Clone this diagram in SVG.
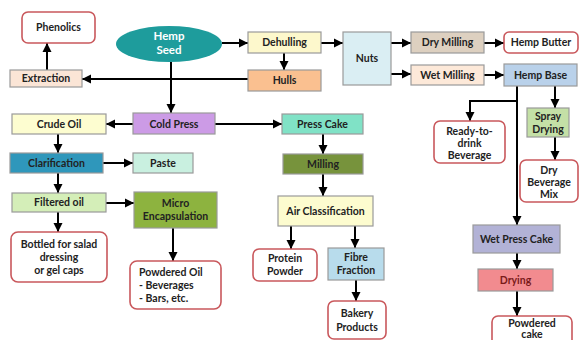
<svg xmlns="http://www.w3.org/2000/svg" width="583" height="340" viewBox="0 0 583 340">
<defs>
<marker id="ah" markerUnits="userSpaceOnUse" markerWidth="10" markerHeight="10" refX="9" refY="5" orient="auto">
<path d="M0,0.5 L9,5 L0,9.5 Z" fill="#000"/>
</marker>
</defs>
<style>
text{font-family:Lato,"Liberation Sans",sans-serif;font-weight:bold;font-size:10.5px;fill:#222;text-anchor:middle}
.box{stroke:#9a9a9a;stroke-width:1.2}
.prod{fill:#fff;stroke:#c9585c;stroke-width:1.6}
.c path{fill:none;stroke:#000;stroke-width:2;marker-end:url(#ah)}
</style>
<rect width="583" height="340" fill="#fff"/>
<g class="c" id="connectors">
<path d="M222,43 H248"/>
<path d="M284,53 V70"/>
<path d="M321,43 H343"/>
<path d="M248,79 H82"/>
<path d="M47,70 V43"/>
<path d="M171,62 V113"/>
<path d="M133,124 H106"/>
<path d="M215,124 H282"/>
<path d="M391,43 H411"/>
<path d="M391,74 H411"/>
<path d="M484,43 H504"/>
<path d="M484,75 H504"/>
<path d="M555,86 V108"/>
<path d="M517,86 V225"/>
<path d="M517,101 H470 V121"/>
<path d="M555,137 V160"/>
<path d="M517,253 V269"/>
<path d="M517,291 V316"/>
<path d="M58,134 V153"/>
<path d="M103,163 H133"/>
<path d="M58,173 V193"/>
<path d="M106,203 H134"/>
<path d="M58,212 V232"/>
<path d="M173,228 V261"/>
<path d="M323,134 V154"/>
<path d="M323,174 V196"/>
<path d="M291,226 V249"/>
<path d="M355,226 V248"/>
<path d="M356,280 V301"/>
</g>
<g id="phenolics"><rect class="prod" x="22" y="12" width="73" height="31" rx="6"/><text x="58.5" y="31">Phenolics</text></g>
<g id="hempseed"><ellipse cx="169" cy="44" rx="53" ry="18" fill="#1e9c9c"/><text x="169" y="40" style="fill:#fff;font-size:11.5px">Hemp</text><text x="169" y="54" style="fill:#fff;font-size:11.5px">Seed</text></g>
<g id="extraction"><rect class="box" x="10" y="70" width="72" height="17" fill="#fbe5d6"/><text x="46" y="82">Extraction</text></g>
<g id="dehulling"><rect class="box" x="248" y="32" width="73" height="21" fill="#fdf8cc"/><text x="284.5" y="46">Dehulling</text></g>
<g id="hulls"><rect class="box" x="248" y="70" width="73" height="21" fill="#fac090"/><text x="284.5" y="84">Hulls</text></g>
<g id="nuts"><rect class="box" x="343" y="32" width="48" height="53" fill="#daeef3"/><text x="367" y="62">Nuts</text></g>
<g id="drymilling"><rect class="box" x="411" y="32" width="73" height="21" fill="#ddd0c0"/><text x="447.5" y="46">Dry Milling</text></g>
<g id="hempbutter"><rect class="prod" x="504" y="32" width="74" height="21" rx="5"/><text x="541" y="46">Hemp Butter</text></g>
<g id="wetmilling"><rect class="box" x="411" y="65" width="73" height="20" fill="#fde9d9"/><text x="447.5" y="79">Wet Milling</text></g>
<g id="hempbase"><rect class="box" x="504" y="64" width="73" height="22" fill="#b9d1ea"/><text x="540.5" y="79">Hemp Base</text></g>
<g id="readytodrink"><rect class="prod" x="434" y="121" width="71" height="42" rx="6"/><text x="469.5" y="135">Ready-to-</text><text x="469.5" y="147">drink</text><text x="469.5" y="159">Beverage</text></g>
<g id="spraydrying"><rect class="box" x="527" y="108" width="42" height="29" fill="#c4e0a6"/><text x="548" y="120">Spray</text><text x="548" y="133">Drying</text></g>
<g id="drybeveragemix"><rect class="prod" x="520" y="160" width="58" height="42" rx="6"/><text x="549" y="174">Dry</text><text x="549" y="186">Beverage</text><text x="549" y="198">Mix</text></g>
<g id="wetpresscake"><rect class="box" x="473" y="225" width="87" height="28" fill="#b2b2d6"/><text x="516.5" y="243">Wet Press Cake</text></g>
<g id="drying"><rect class="box" x="478" y="269" width="75" height="22" fill="#f28b8f"/><text x="515.5" y="284" style="fill:#7a1a1a">Drying</text></g>
<g id="powderedcake"><rect class="prod" x="492" y="316" width="80" height="30" rx="6"/><text x="532" y="327">Powdered</text><text x="532" y="338">cake</text></g>
<g id="crudeoil"><rect class="box" x="12" y="114" width="94" height="20" fill="#fdfdd0"/><text x="59" y="128">Crude Oil</text></g>
<g id="coldpress"><rect class="box" x="133" y="113" width="82" height="21" fill="#cc9be6"/><text x="174" y="128">Cold Press</text></g>
<g id="presscake"><rect class="box" x="282" y="114" width="81" height="20" fill="#80e2c6"/><text x="322.5" y="128">Press Cake</text></g>
<g id="clarification"><rect class="box" x="10" y="153" width="93" height="20" fill="#2f97bb"/><text x="56.5" y="167">Clarification</text></g>
<g id="paste"><rect class="box" x="133" y="153" width="60" height="20" fill="#c9f0e0"/><text x="163" y="167">Paste</text></g>
<g id="milling"><rect class="box" x="283" y="154" width="80" height="20" fill="#77933c"/><text x="323" y="168">Milling</text></g>
<g id="filteredoil"><rect class="box" x="12" y="193" width="94" height="19" fill="#d4eeb8"/><text x="59" y="206">Filtered oil</text></g>
<g id="microencapsulation"><rect class="box" x="134" y="192" width="83" height="36" fill="#8db33f"/><text x="175.5" y="207">Micro</text><text x="175.5" y="220">Encapsulation</text></g>
<g id="airclassification"><rect class="box" x="278" y="196" width="95" height="30" fill="#fdfccf"/><text x="325.5" y="215">Air Classification</text></g>
<g id="bottled"><rect class="prod" x="11" y="232" width="96" height="50" rx="7"/><text x="59" y="248">Bottled for salad</text><text x="59" y="261">dressing</text><text x="59" y="274">or gel caps</text></g>
<g id="powderedoil"><rect class="prod" x="130" y="261" width="91" height="48" rx="7"/><text x="139" y="276" style="text-anchor:start">Powdered Oil</text><text x="139" y="289" style="text-anchor:start">- Beverages</text><text x="139" y="302" style="text-anchor:start">- Bars, etc.</text></g>
<g id="proteinpowder"><rect class="prod" x="253" y="249" width="64" height="32" rx="6"/><text x="285" y="262">Protein</text><text x="285" y="275">Powder</text></g>
<g id="fibrefraction"><rect class="box" x="328" y="248" width="56" height="32" fill="#b8dcec"/><text x="356" y="261">Fibre</text><text x="356" y="274">Fraction</text></g>
<g id="bakeryproducts"><rect class="prod" x="328" y="301" width="58" height="38" rx="6"/><text x="357" y="317">Bakery</text><text x="357" y="331">Products</text></g>
</svg>
